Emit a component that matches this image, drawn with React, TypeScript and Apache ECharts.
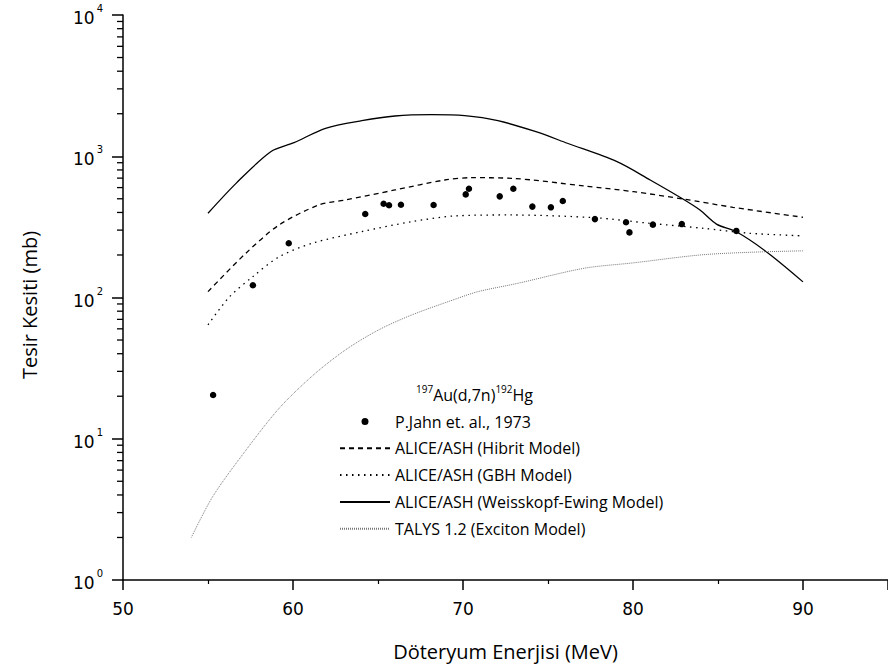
import React, { useEffect, useRef } from "react";
import * as echarts from "echarts";

const expX = [55.3, 57.64, 59.75, 64.25, 65.33, 65.65, 66.35, 68.27, 70.16, 70.35, 72.16, 72.96, 74.08, 75.17, 75.87, 77.76, 79.59, 79.79, 81.17, 82.87, 86.08];
const expY = [20.4, 122, 242, 390, 461, 450, 454, 452, 537, 589, 520, 589, 440, 435, 482, 359, 341, 289, 328, 331, 296];

const weX = [55, 56.65, 58.69, 60.06, 61.91, 64.05, 66.0, 68.15, 70.1, 72.05, 74.29, 76.14, 79.06, 81.01, 82.96, 83.94, 84.91, 86.08, 87.84, 90.0];
const weY = [395, 643, 1077, 1248, 1577, 1786, 1928, 1968, 1936, 1786, 1493, 1236, 915, 679, 496, 416, 331, 292, 211, 129];

const hibX = [55, 57.23, 59.18, 61.52, 63.08, 66.0, 68.93, 70.49, 72.83, 77.12, 80.04, 82.96, 85.88, 90];
const hibY = [110, 206, 326, 452, 490, 577, 679, 705, 698, 616, 561, 498, 435, 370];

const gbhX = [55, 56.26, 57.62, 59.18, 61.13, 64.05, 66.98, 69.51, 72.83, 77.76, 81.01, 84.13, 86.86, 90];
const gbhY = [64, 101, 140, 194, 242, 293, 344, 378, 384, 367, 335, 309, 285, 273];

const talX = [54.02, 55.28, 57.23, 59.18, 61.13, 63.08, 65.03, 66.98, 69.51, 70.88, 73.22, 77.12, 80.04, 83.94, 86.86, 90];
const talY = [2.0, 3.9, 8.3, 16.4, 27.8, 42.5, 58.9, 75.2, 97, 110, 126, 161, 176, 200, 209, 214];

const decades = [1, 10, 100, 1000];
const minorMultipliers = [2, 3, 4, 5, 6, 7, 8, 9];

const names = {
  exp: "P.Jahn et. al., 1973",
  hib: "ALICE/ASH (Hibrit Model)",
  gbh: "ALICE/ASH (GBH Model)",
  we: "ALICE/ASH (Weisskopf-Ewing Model)",
  tal: "TALYS 1.2 (Exciton Model)",
};

const zip = (xs: number[], ys: number[]) => xs.map((x, i) => [x, ys[i]]);

const LEG_FONT = "'Open Sans', sans-serif";
const AX_FONT = "'DejaVu Sans', sans-serif";

const DOT_ICON = "path://M0,0 M50,14 M21.5,7 A3.5,3.5 0 1,1 28.5,7 A3.5,3.5 0 1,1 21.5,7 Z";

export default function App() {
  const ref = useRef<HTMLDivElement>(null);
  useEffect(() => {
    if (!ref.current) return;
    const chart = echarts.init(ref.current, null, { renderer: "svg" });
    const minorData: number[][] = [];
    decades.forEach((d) => minorMultipliers.forEach((m) => minorData.push([50, d * m])));
    chart.setOption({
      animation: false,
      backgroundColor: "#fff",
      grid: { left: 123, top: 15, right: -5.4, bottom: 91 },
      xAxis: {
        type: "value",
        min: 50,
        max: 95,
        interval: 10,
        name: "Döteryum Enerjisi (MeV)",
        nameLocation: "middle",
        nameGap: 61,
        nameTextStyle: { fontFamily: LEG_FONT, fontSize: 20, color: "#000" },
        axisLine: { lineStyle: { color: "#000", width: 1.5 } },
        axisTick: { length: 10, lineStyle: { color: "#000", width: 1.5 } },
        minorTick: { show: true, splitNumber: 2, length: 4, lineStyle: { color: "#000", width: 1.2 } },
        splitLine: { show: false },
        axisLabel: {
          margin: 20,
          fontFamily: AX_FONT,
          fontSize: 17,
          color: "#000",
          showMaxLabel: false,
        },
      },
      yAxis: {
        type: "log",
        logBase: 10,
        min: 1,
        max: 10000,
        axisLine: { show: true, lineStyle: { color: "#000", width: 1.5 } },
        axisTick: { length: 11, lineStyle: { color: "#000", width: 1.5 } },
        splitLine: { show: false },
        axisLabel: {
          margin: 20,
          color: "#000",
          formatter: (v: number) => "{b|10}{s|" + Math.round(Math.log10(v)) + "}",
          rich: {
            b: { fontFamily: AX_FONT, fontSize: 17, color: "#000", padding: [6, 0, 0, 0] },
            s: { fontFamily: AX_FONT, fontSize: 10, color: "#000", verticalAlign: "top", padding: [0, 0, 0, 2] },
          },
        },
      },
      legend: {
        orient: "vertical",
        left: 339,
        top: 413.5,
        padding: 0,
        itemWidth: 50,
        itemHeight: 14,
        itemGap: 10.8,
        itemStyle: { opacity: 0 },
        data: [
          { name: names.exp, icon: DOT_ICON, itemStyle: { opacity: 1, color: "#000" } },
          names.hib,
          names.gbh,
          names.we,
          names.tal,
        ],
        textStyle: { fontFamily: LEG_FONT, fontSize: 16, color: "#000", lineHeight: 16 },
      },
      graphic: [
        {
          type: "text",
          left: 416,
          top: 384,
          style: {
            text: "{s|197}{b|Au(d,7n)}{s|192}{b|Hg}",
            rich: {
              b: { fontFamily: LEG_FONT, fontSize: 16, fill: "#000", lineHeight: 21 },
              s: { fontFamily: LEG_FONT, fontSize: 10, fill: "#000", verticalAlign: "top", lineHeight: 21 },
            },
          },
        },
        {
          type: "text",
          x: 29,
          y: 305,
          rotation: Math.PI / 2,
          style: {
            text: "Tesir Kesiti (mb)",
            fontFamily: LEG_FONT,
            fontSize: 20,
            fill: "#000",
            align: "center",
            verticalAlign: "middle",
          },
        },
      ],
      series: [
        {
          name: names.exp,
          type: "scatter",
          data: zip(expX, expY),
          symbol: "circle",
          symbolSize: 6.5,
          itemStyle: { color: "#000", opacity: 1 },
        },
        {
          name: names.hib,
          type: "line",
          data: zip(hibX, hibY),
          symbol: "none",
          smooth: 0.3,
          itemStyle: { color: "#000" },
          lineStyle: { color: "#000", width: 1.3, type: [5, 4] },
        },
        {
          name: names.gbh,
          type: "line",
          data: zip(gbhX, gbhY),
          symbol: "none",
          smooth: 0.3,
          itemStyle: { color: "#000" },
          lineStyle: { color: "#000", width: 1.3, type: [1.5, 4.5] },
        },
        {
          name: names.we,
          type: "line",
          data: zip(weX, weY),
          symbol: "none",
          smooth: 0.3,
          itemStyle: { color: "#000" },
          lineStyle: { color: "#000", width: 1.3, type: "solid" },
        },
        {
          name: names.tal,
          type: "line",
          data: zip(talX, talY),
          symbol: "none",
          smooth: 0.3,
          itemStyle: { color: "#777" },
          lineStyle: { color: "#777", width: 1, type: [1, 1] },
        },
        {
          type: "custom",
          silent: true,
          clip: false,
          data: minorData,
          renderItem: (_p: any, api: any) => {
            const pt = api.coord([api.value(0), api.value(1)]);
            return {
              type: "line",
              shape: { x1: pt[0] - 6, y1: pt[1], x2: pt[0], y2: pt[1] },
              style: { stroke: "#000", lineWidth: 1.3 },
            };
          },
        },
      ],
    });
    return () => chart.dispose();
  }, []);
  return (
    <div
      ref={ref}
      style={{ position: "fixed", left: 0, top: 0, width: 888, height: 671, background: "#fff" }}
    />
  );
}
